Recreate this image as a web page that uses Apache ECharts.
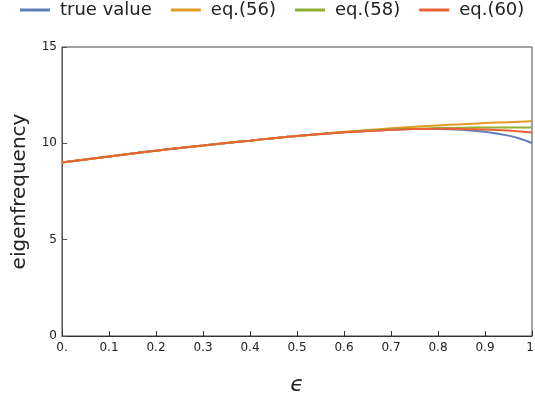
<!DOCTYPE html>
<html>
<head>
<meta charset="utf-8">
<script src="https://cdn.jsdelivr.net/npm/echarts@6/dist/echarts.min.js"></script>
<style>html,body{margin:0;padding:0;background:#fff}#c{width:535px;height:403px}</style>
</head>
<body>
<div id="c"></div>
<script>
const eps = [0,0.05,0.1,0.15,0.2,0.25,0.3,0.35,0.4,0.45,0.5,0.55,0.6,0.65,0.7,0.75,0.8,0.85,0.9,0.95,0.975,1.0];
const trueValue = [9.00,9.16,9.32,9.47,9.62,9.76,9.89,10.02,10.14,10.27,10.38,10.48,10.57,10.64,10.70,10.74,10.75,10.71,10.60,10.40,10.24,10.02];
const eq56 = [9.00,9.16,9.32,9.47,9.62,9.76,9.89,10.02,10.14,10.27,10.38,10.49,10.60,10.69,10.78,10.86,10.93,10.99,11.05,11.10,11.12,11.14];
const eq58 = [9.00,9.16,9.32,9.47,9.62,9.76,9.89,10.02,10.14,10.27,10.38,10.48,10.58,10.66,10.72,10.76,10.79,10.81,10.82,10.82,10.82,10.82];
const eq60 = [9.00,9.16,9.32,9.47,9.62,9.76,9.89,10.02,10.14,10.27,10.38,10.48,10.57,10.64,10.70,10.74,10.76,10.75,10.72,10.66,10.61,10.56];
const names = ['true value','eq.(56)','eq.(58)','eq.(60)'];
const colors = ['#5E81B5','#E19C24','#8FB032','#EB6235'];
const yTicks = [0,5,10,15];

const font = 'DejaVu Sans';
const allSeries = [trueValue, eq56, eq58, eq60];
const chart = echarts.init(document.getElementById('c'));
chart.setOption({
  animation: false,
  color: colors,
  legend: {
    top: 0, left: 20, padding: [1,0,0,0],
    icon: 'rect', itemWidth: 30, itemHeight: 3, itemGap: 19,
    textStyle: {fontFamily: font, fontSize: 18, color: '#222', padding: [0,0,0,5]},
    data: names
  },
  grid: {left: 62, right: 3, top: 47, bottom: 67, show: true, borderColor: '#444', borderWidth: 1,
    containLabel: false, outerBoundsMode: 'none'},
  xAxis: {
    type: 'value', min: 0, max: 1, interval: 0.1,
    name: 'ϵ', nameLocation: 'middle', nameGap: 38,
    nameTextStyle: {fontFamily: font, fontSize: 22, fontStyle: 'italic', color: '#222'},
    axisLine: {lineStyle: {color: '#333'}},
    axisTick: {inside: true, length: 5, lineStyle: {color: '#333'}},
    splitLine: {show: false},
    axisLabel: {fontFamily: font, fontSize: 12, color: '#222', margin: 6, hideOverlap: false,
      formatter: v => (v === 0 ? '0.' : (v === 1 ? '1.' : v.toFixed(1)))}
  },
  yAxis: {
    type: 'value', min: 0, max: 15, interval: 5,
    name: 'eigenfrequency', nameLocation: 'middle', nameGap: 32,
    nameTextStyle: {fontFamily: font, fontSize: 20, color: '#222'},
    axisLine: {show: true, lineStyle: {color: '#555'}},
    axisTick: {show: true, inside: true, length: 5, lineStyle: {color: '#555'}},
    splitLine: {show: false},
    axisLabel: {fontFamily: font, fontSize: 12, color: '#222', margin: 5,
      formatter: v => (yTicks.indexOf(v) >= 0 ? String(v) : '')}
  },
  series: names.map((n, i) => ({
    name: n, type: 'line', showSymbol: false, symbol: 'none', smooth: 0.3,
    lineStyle: {width: 2, color: colors[i]},
    itemStyle: {color: colors[i]},
    data: eps.map((e, j) => [e, allSeries[i][j]])
  }))
});
</script>
</body>
</html>
